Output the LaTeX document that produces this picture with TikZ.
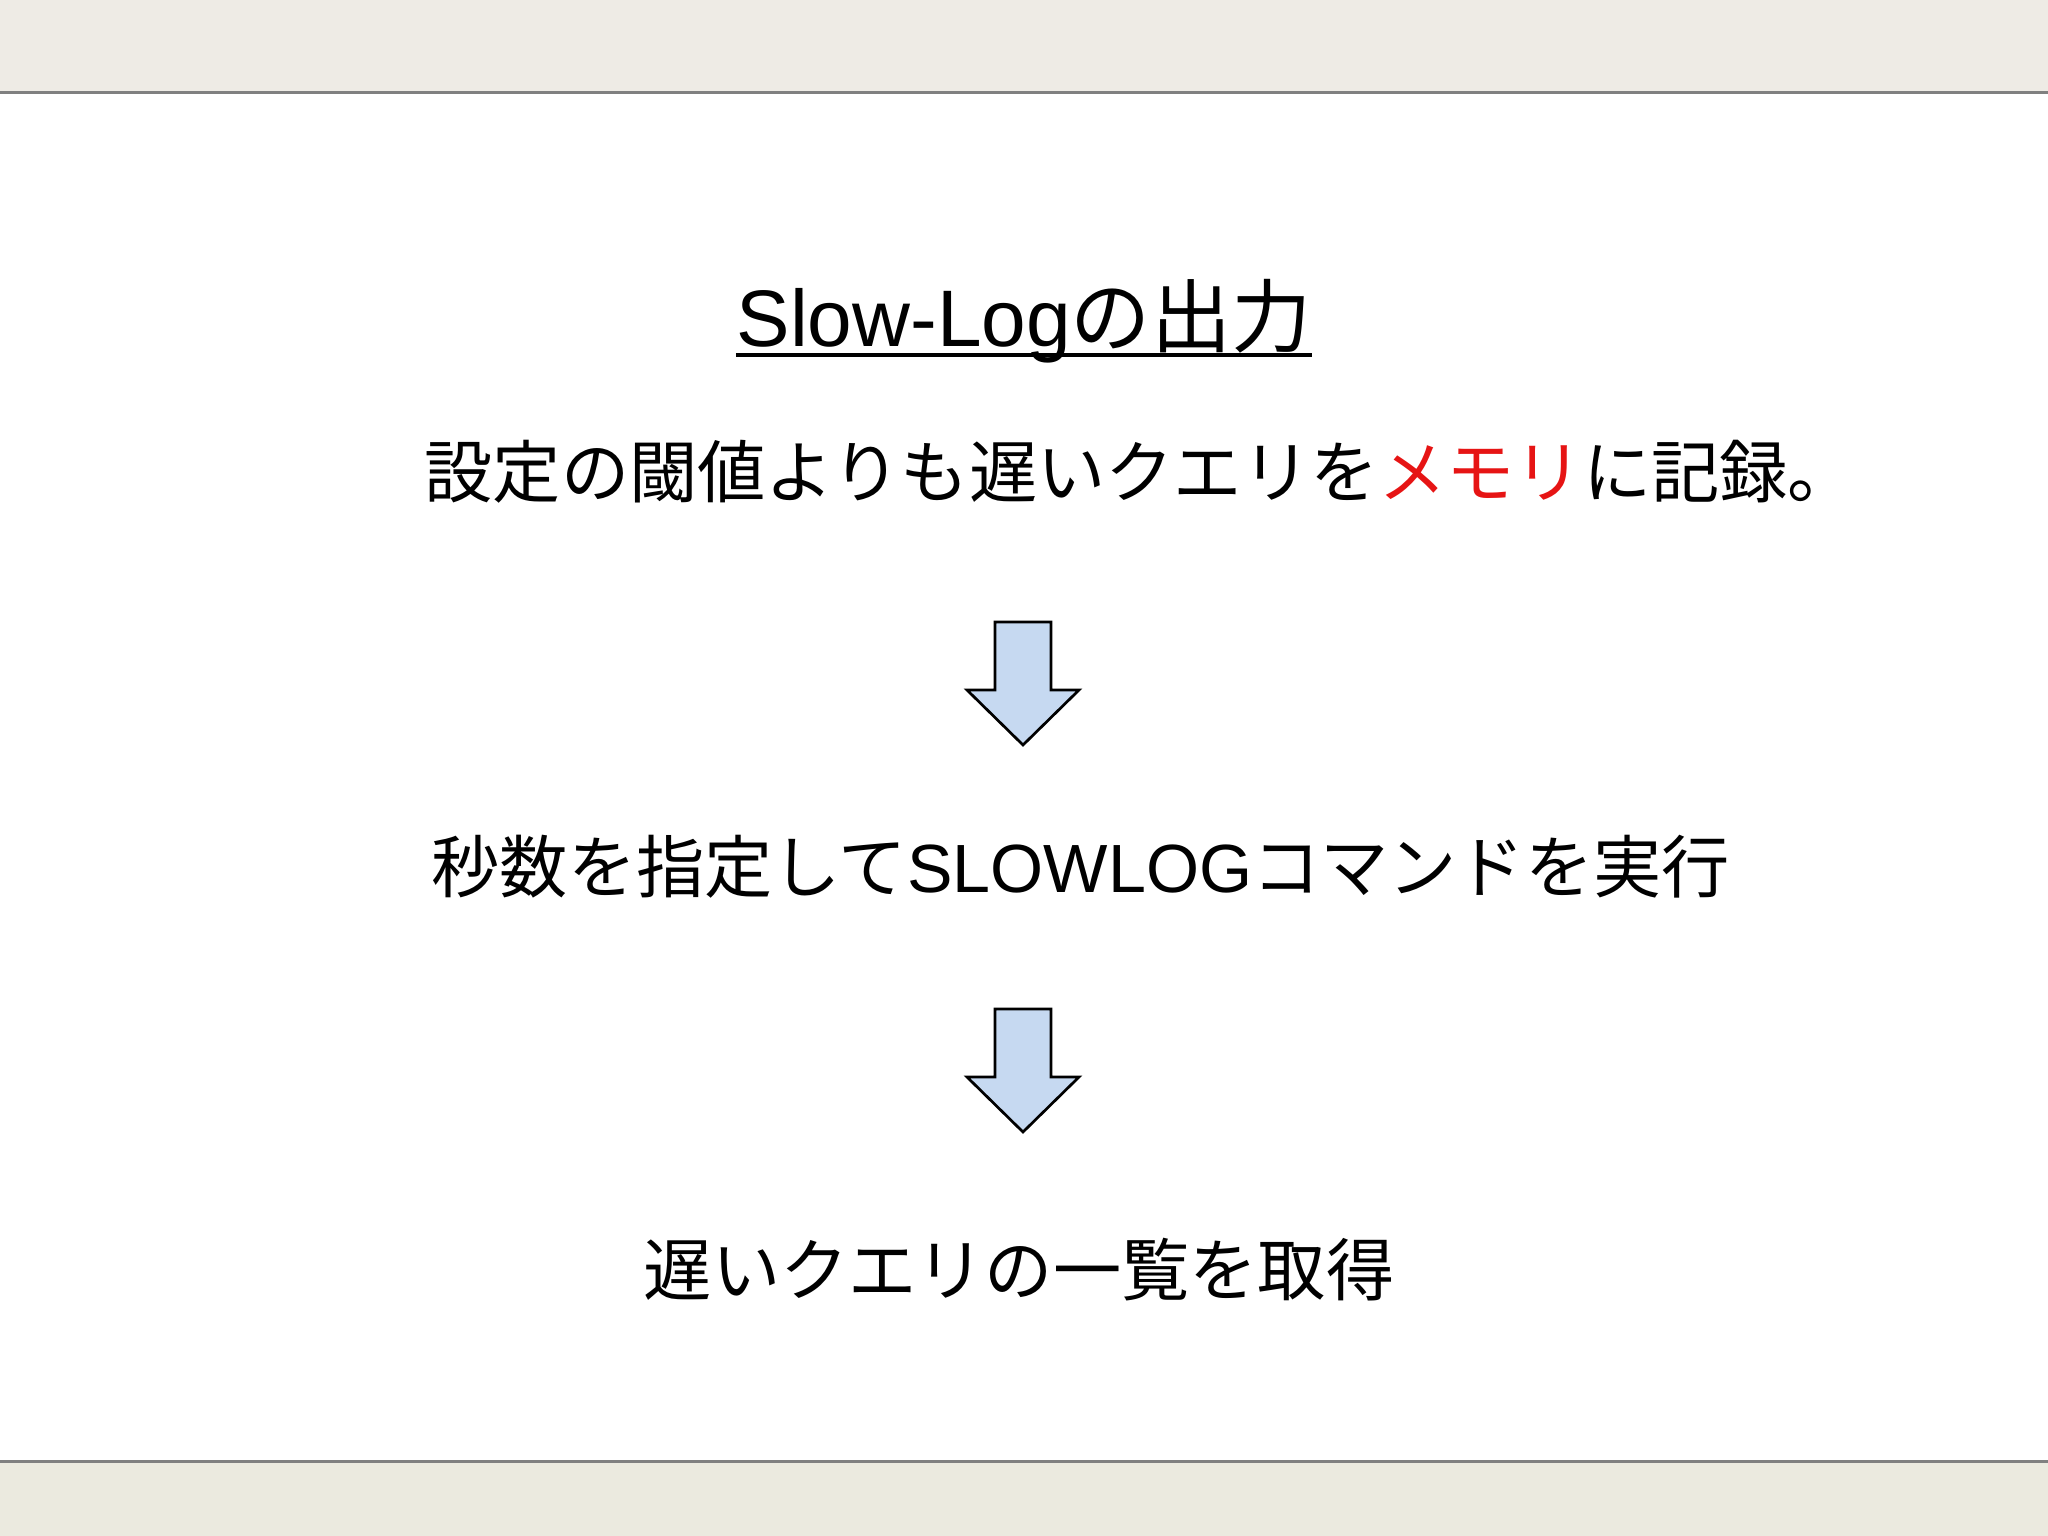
\documentclass[tikz,border=0pt]{standalone}
\usepackage{fontspec}
\usepackage{xcolor}
\usepackage{tikz}
\usetikzlibrary{positioning}
\setmainfont{Liberation Sans}
\newfontfamily\jpfont{Noto Sans CJK JP}
\definecolor{bandTop}{RGB}{238,235,229}
\definecolor{bandBottom}{RGB}{235,234,223}
\definecolor{bandRule}{RGB}{128,128,128}
\definecolor{arrowFill}{RGB}{198,217,241}
\definecolor{memoRed}{RGB}{230,20,20}
\tikzset{
  slideTitle/.style={inner sep=0pt, font=\fontsize{22.8pt}{27pt}\selectfont},
  slideText/.style={inner sep=0pt, font=\fontsize{19.4pt}{23pt}\selectfont},
  titleRule/.style={line width=0.045cm},
  stepArrow/.style={draw=black, fill=arrowFill, line width=0.027cm, line join=miter},
  bandRuleLine/.style={draw=bandRule, line width=0.03cm}
}

\begin{document}
\begin{tikzpicture}[x=0.01cm, y=-0.01cm]
  \useasboundingbox (0,0) rectangle (2048,1536);
  % slide frame
  \fill[bandTop] (0,0) rectangle (2048,91);
  \draw[bandRuleLine] (0,92) -- (2048,92);
  \fill[bandBottom] (0,1462) rectangle (2048,1536);
  \draw[bandRuleLine] (0,1461) -- (2048,1461);

  \node[slideTitle, anchor=base] (title) at (1024,346) {Slow-Log{\jpfont の出力}};
  \draw[titleRule] ([yshift=-0.09cm]title.base west) -- ([yshift=-0.09cm]title.base east);

  \node[slideText, anchor=base west] (memo) at (424,497)
    {\jpfont 設定の閾値よりも遅いクエリを\textcolor{memoRed}{メモリ}に記録。};
  \node[slideText, anchor=base west] (cmd) at (431,892)
    {{\jpfont 秒数を指定して}SLOWLOG{\jpfont コマンドを実行}};
  \node[slideText, anchor=base] (list) at (1019,1295)
    {\jpfont 遅いクエリの一覧を取得};

  % block arrows between the steps
  \coordinate (arrowA) at (1023,622);
  \coordinate (arrowB) at (1023,1009);
  \foreach \a in {arrowA, arrowB}{
    \draw[stepArrow] (\a) ++(-28,0) -- ++(56,0) -- ++(0,68) -- ++(28,0)
      -- ++(-56,55) -- ++(-56,-55) -- ++(28,0) -- cycle;
  }
\end{tikzpicture}
\end{document}
